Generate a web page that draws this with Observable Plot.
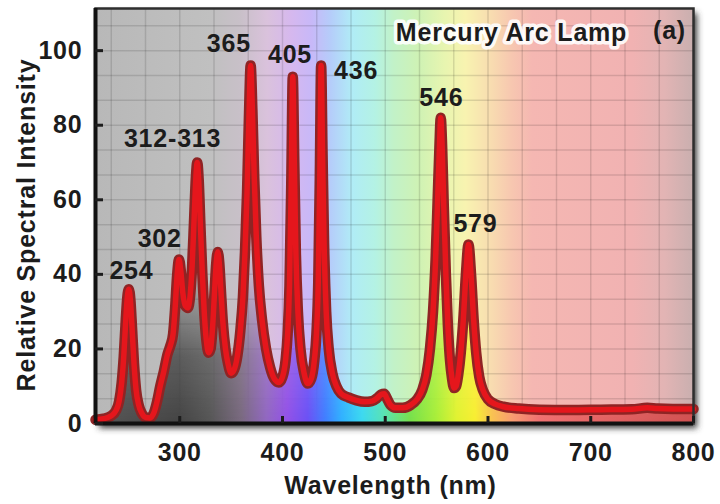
<!DOCTYPE html>
<html><head><meta charset="utf-8">
<script src="https://cdn.jsdelivr.net/npm/d3@7"></script>
<script src="https://cdn.jsdelivr.net/npm/@observablehq/plot@0.6"></script>
<style>html,body{margin:0;padding:0;background:#fff;}</style>
</head><body><div id="chart"></div>
<script>
// ---- data ----
const wavelengths = [218,226,233,238,241,243.5,245.5,247.5,249,250.5,252,253.5,255.5,257.5,260,263,267,271,275,278,281,284.5,288,291,293.5,295.5,297.5,299.3,301,303,305.5,308,310,312,314,315.7,317,318.5,320,322,324,326,328,330,332,334,335.5,337,338.5,340,342,344.5,347,350,353,356,359,361.5,363.5,365.5,367.3,369,370.7,372.5,374.5,377,380,384,388,392,396.5,400,403,405,406.8,408.5,410,411.5,413,415,417.5,421,424.6,428,431,433,434.8,436.3,437.6,439,440.5,442.5,445,448.5,452.5,457,464,472,480,487,492,496,499,501.5,505,510,517,525,531,536,540,543.5,546.5,549,551,552.7,554,555.4,557,559,561,563,565,567,569,571,573.5,576,578.5,581,583.5,586,588.5,591.5,595,600,607,615,630,650,680,710,740,755,765,780,800];
const intensity = [1.0,1.3,2.0,3.5,6,11,18,28,34,36,33,26,16,9,5,2.8,1.6,1.5,3,6,10,14,18.5,21,24,31,40,44,41,35,31.5,31,34,42,55,66,70,65,54,40,29,22,19,20,26,36,43,46,43,36,27,20,16,13.5,14.5,18,25,34,46,62,82,96,84,66,50,37,28,20,15,12,11,12.5,17,24,37,64,93,70,46,30,20,13.5,10.7,12,17,24,38,66,96,72,48,30,20,13.5,10,8,7,6.2,5.8,6,6.8,7.8,8,6.8,5,4.2,4.2,5,6.5,9,13,20,30,44,60,74,82,74,58,40,26,17,12,9.5,10,13,19,28,40,48,40,28,19,12.5,9,6.5,5.2,4.5,4,3.7,3.6,3.7,3.8,4.2,4,3.9,3.9];

const peakLabels = ["254","302","312-313","365","405","436","546","579"];
const peakLabelX = [253,280.5,293,347.8,407.3,471.7,554.6,587.8];
const peakLabelY = [40.8,49.6,76.4,101.8,98.9,94.6,87.4,53.6];

const xTicks = [300,400,500,600,700,800];
const yTicks = [0,20,40,60,80,100];
const xDomain = [218,800];
const yDomain = [0,111.3];

const titleText = "Mercury Arc Lamp";
const panelText = "(a)";
const xTitle = "Wavelength (nm)";
const yTitle = "Relative Spectral Intensity";

// ---- styling config ----
const bgStops = [[218,"#b8b8b8"],[330,"#c0c0c0"],[358,"#c8c0c8"],[385,"#dac2dc"],[408,"#d6b8ee"],[428,"#c8b8f8"],[447,"#b5cdfa"],[468,"#b0ecf6"],[490,"#b4f2e4"],[508,"#c2f2c8"],[533,"#cff2b4"],[558,"#e8f5b0"],[578,"#f8f3b0"],[603,"#f8dcb0"],[623,"#f7c7b0"],[643,"#f5b7b2"],[740,"#f1b2b2"],[772,"#e2b4b4"],[800,"#c9afaf"]];
const fgStops = [[218,"#555"],[300,"#444"],[330,"#555"],[360,"#78687e"],[385,"#9066c0"],[405,"#9150e6"],[425,"#6a50f5"],[442,"#3f7dff"],[458,"#2fb0ff"],[478,"#3ad8f0"],[500,"#58e2b0"],[525,"#76e04a"],[550,"#a8ee38"],[570,"#e0f230"],[588,"#f8ee30"],[605,"#f8c050"],[625,"#f89a70"],[650,"#f07070"],[800,"#d05050"]];
const fadeTop = 45;

const spectrum = wavelengths.map((w, i) => ({w, v: intensity[i]}));
const labels = peakLabels.map((t, i) => ({t, x: peakLabelX[i], y: peakLabelY[i]}));
const xGrid = d3.range(0, 18).map(i => 800 - i * 100 / 3).filter(v => v > xDomain[0] + 1 && v < xDomain[1] - 1);
const yGrid = d3.range(1, 17).map(i => i * 20 / 3);

const FONT = "'Liberation Sans', Arial, Helvetica, sans-serif";

function defsMark(index, scales, values, dims) {
  const x0 = scales.x(xDomain[0]), x1 = scales.x(xDomain[1]);
  const g = d3.create("svg:g");
  const defs = g.append("defs");
  const mk = (id, stops) => {
    const lg = defs.append("linearGradient").attr("id", id).attr("gradientUnits", "userSpaceOnUse")
      .attr("x1", x0).attr("x2", x1).attr("y1", 0).attr("y2", 0);
    for (const [w, c] of stops) lg.append("stop").attr("offset", (w - xDomain[0]) / (xDomain[1] - xDomain[0])).attr("stop-color", c);
  };
  mk("bgGrad", bgStops);
  mk("fgGrad", fgStops);
  const fade = defs.append("linearGradient").attr("id", "fadeGrad").attr("gradientUnits", "userSpaceOnUse")
    .attr("x1", 0).attr("x2", 0).attr("y1", scales.y(0)).attr("y2", scales.y(fadeTop));
  fade.append("stop").attr("offset", 0).attr("stop-color", "#fff").attr("stop-opacity", 1);
  fade.append("stop").attr("offset", 0.4).attr("stop-color", "#fff").attr("stop-opacity", 0.8);
  fade.append("stop").attr("offset", 1).attr("stop-color", "#fff").attr("stop-opacity", 0);
  defs.append("mask").attr("id", "fadeMask").attr("maskUnits", "userSpaceOnUse")
    .attr("x", 0).attr("y", 0).attr("width", dims.width).attr("height", dims.height)
    .append("rect").attr("width", dims.width).attr("height", dims.height).attr("fill", "url(#fadeGrad)");
  const f = defs.append("filter").attr("id", "soft").attr("x", "-10%").attr("y", "-10%").attr("width", "120%").attr("height", "120%");
  f.append("feGaussianBlur").attr("stdDeviation", 3);
  // drop shadow of the panel
  g.append("rect")
    .attr("x", dims.marginLeft + 4).attr("y", dims.marginTop + 5)
    .attr("width", dims.width - dims.marginLeft - dims.marginRight)
    .attr("height", dims.height - dims.marginTop - dims.marginBottom)
    .attr("fill", "#3a3a3a").attr("filter", "url(#soft)");
  return g.node();
}

const txt = {fontSize: 25, fontWeight: "bold", fill: "#1c1c1c", lineAnchor: "middle"};

const plot = Plot.plot({
  width: 720,
  height: 504,
  marginLeft: 95,
  marginRight: 27,
  marginTop: 8,
  marginBottom: 81,
  style: {fontFamily: FONT, fontSize: "25px", fontWeight: "bold", color: "#1c1c1c", background: "#fff"},
  x: {domain: xDomain, label: null},
  y: {domain: yDomain, label: null},
  marks: [
    defsMark,
    Plot.frame({fill: "url(#bgGrad)", stroke: null}),
    Plot.gridX(xGrid, {stroke: "#000", strokeOpacity: 0.12, strokeWidth: 1.5}),
    Plot.gridY(yGrid, {stroke: "#000", strokeOpacity: 0.12, strokeWidth: 1.5}),
    Plot.areaY(spectrum, {x: "w", y: "v", fill: "url(#fgGrad)", curve: "monotone-x"}),
    Plot.line(spectrum, {x: "w", y: "v", stroke: "#8f2424", strokeWidth: 10.5, curve: "monotone-x", strokeLinejoin: "round"}),
    Plot.line(spectrum, {x: "w", y: "v", stroke: "#e5161c", strokeWidth: 5.5, curve: "monotone-x", strokeLinejoin: "round"}),
    Plot.frame({stroke: "#2e2e2e", strokeWidth: 2.5}),
    Plot.ruleY([0], {stroke: "#111", strokeWidth: 4}),
    Plot.ruleX([xDomain[0]], {stroke: "#111", strokeWidth: 4}),
    Plot.axisX(xTicks, {tickSize: -7, strokeWidth: 3, fill: "none", label: null}),
    Plot.axisY(yTicks, {tickSize: -8, strokeWidth: 3, fill: "none", label: null}),
    Plot.axisX(xTicks, {tickSize: 0, tickPadding: 20, label: null, fill: "#1c1c1c"}),
    Plot.axisY(yTicks, {tickSize: 0, tickPadding: 13, label: null, fill: "#1c1c1c"}),
    Plot.text(labels, {x: "x", y: "y", text: "t", ...txt}),
    Plot.text([titleText], {frameAnchor: "top-right", dx: -182, dy: 24, textAnchor: "middle", ...txt, stroke: "#fff", strokeWidth: 7, strokeOpacity: 0.9, strokeLinejoin: "round"}),
    Plot.text([panelText], {frameAnchor: "top-right", dx: -24, dy: 22, textAnchor: "middle", ...txt}),
    Plot.text([xTitle], {frameAnchor: "bottom", dx: -4, dy: 62, textAnchor: "middle", ...txt}),
    Plot.text([yTitle], {frameAnchor: "left", dx: -69, dy: 9, rotate: -90, textAnchor: "middle", ...txt})
  ]
});

const area = plot.querySelector('g[aria-label="area"]');
if (area) area.setAttribute("mask", "url(#fadeMask)");
plot.querySelectorAll("text").forEach(t => t.style.letterSpacing = "0.8px");
document.getElementById("chart").appendChild(plot);
</script>
</body></html>
